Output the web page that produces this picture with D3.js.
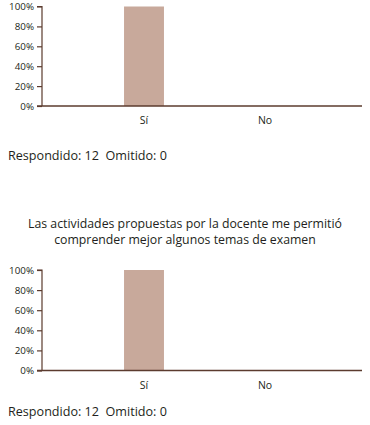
<!DOCTYPE html>
<html>
<head>
<meta charset="utf-8">
<script src="https://cdn.jsdelivr.net/npm/d3@7"></script>
<style>
html,body{margin:0;padding:0;background:#fff;}
svg{display:block;}
text{font-family:"Open Sans","Noto Sans",sans-serif;fill:#231f20;}
</style>
</head>
<body>
<svg id="c" width="370" height="425"></svg>
<script>
const categories = ["Sí", "No"];
const values1 = [100, 0];
const values2 = [100, 0];
const yTicks = [0, 20, 40, 60, 80, 100];
const title2 = ["Las actividades propuestas por la docente me permitió", "comprender mejor algunos temas de examen"];
const footer1 = "Respondido: 12  Omitido: 0";
const footer2 = "Respondido: 12  Omitido: 0";

const svg = d3.select("#c");
const axisColor = "#5b3b2e";
const barColor = "#c8a99b";

function drawChart(top, bottom, values, footer, footerY) {
  const g = svg.append("g");
  const y = d3.scaleLinear().domain([0, 100]).range([bottom, top]);
  const x = d3.scaleBand().domain(categories).range([83.5, 325.5])
    .paddingInner(0.67).paddingOuter(0.335).align(0.5);

  g.selectAll("rect.bar").data(categories).enter().append("rect")
    .attr("class", "bar")
    .attr("x", d => x(d))
    .attr("width", x.bandwidth())
    .attr("y", (d, i) => y(values[i]))
    .attr("height", (d, i) => bottom - y(values[i]))
    .attr("fill", barColor);

  const yAxis = d3.axisLeft(y).tickValues(yTicks).tickFormat(d => d + "%").tickSize(5).tickPadding(3);
  const ya = g.append("g").attr("transform", "translate(42,0)").call(yAxis);
  ya.select(".domain").attr("stroke", axisColor).attr("stroke-width", 1.2).attr("d", `M-5,${top}H0V${bottom}`);
  ya.selectAll(".tick line").attr("stroke", axisColor).attr("stroke-width", 1.2);
  ya.selectAll(".tick text").style("font-size", "9.8px").attr("fill", "#231f20")
    .style("font-family", '"Open Sans","Noto Sans",sans-serif');

  g.append("line").attr("x1", 37).attr("x2", 362).attr("y1", bottom).attr("y2", bottom)
    .attr("stroke", axisColor).attr("stroke-width", 1.3);

  g.selectAll("text.cat").data(categories).enter().append("text")
    .attr("class", "cat")
    .attr("x", d => x(d) + x.bandwidth() / 2)
    .attr("y", bottom + 18)
    .attr("text-anchor", "middle")
    .style("font-size", "10.5px")
    .text(d => d);

  g.append("text").attr("x", 8).attr("y", footerY).style("font-size", "12.6px")
    .attr("xml:space", "preserve").style("white-space", "pre").text(footer);
}

drawChart(6.5, 106, values1, footer1, 160);

svg.selectAll("text.title").data(title2).enter().append("text")
  .attr("class", "title")
  .attr("x", 185)
  .attr("y", (d, i) => 227.5 + i * 16)
  .attr("text-anchor", "middle")
  .style("font-size", "12.3px")
  .text(d => d);

drawChart(270, 370.5, values2, footer2, 416);
</script>
</body>
</html>
